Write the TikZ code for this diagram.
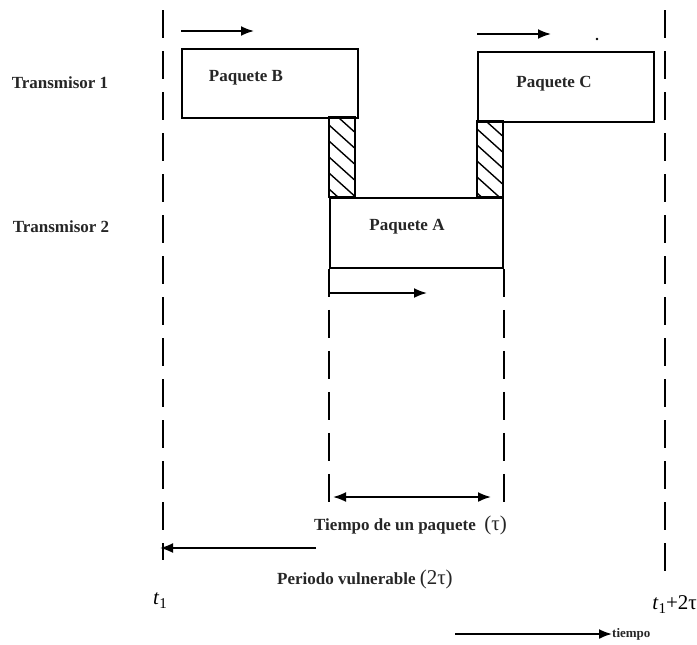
\documentclass[tikz,border=0pt]{standalone}
\usepackage{fontspec}
\setmainfont{Liberation Serif}
\usetikzlibrary{arrows.meta}
\newcommand{\bigf}{\fontsize{21}{24}\selectfont\mdseries}
\newcommand{\subone}{\raisebox{-0.45ex}{\fontsize{15}{17}\selectfont 1}}
\begin{document}
\begin{tikzpicture}[x=1pt,y=-1pt,
  pkt/.style={draw, line width=1.8pt, anchor=north west, inner sep=0pt},
  lbl/.style={font=\fontsize{17}{20}\selectfont\bfseries, text=black!85, inner sep=0pt},
  vdash/.style={line width=2pt, dash pattern=on 28pt off 13pt},
  arr/.style={line width=1.8pt, -{Latex[length=13pt,width=10pt]}},
  darr/.style={line width=1.8pt, {Latex[length=13pt,width=10pt]}-{Latex[length=13pt,width=10pt]}},
  hatch/.style={line width=1.4pt}]
\useasboundingbox (0,0) rectangle (697,645);
% boxes
\node[pkt, minimum width=176pt, minimum height=69pt] (B) at (181,48) {};
\node[pkt, minimum width=176pt, minimum height=70pt] (C) at (477,51) {};
\node[pkt, minimum width=173pt, minimum height=70pt] (A) at (329,197) {};
% hatched collision zones
\coordinate (h1a) at (329,117); \coordinate (h1b) at (355,197);
\coordinate (h2a) at (477,121); \coordinate (h2b) at (503,197);
\draw[line width=1.8pt] (h1a) rectangle (h1b);
\draw[line width=1.8pt] (h2a) rectangle (h2b);
\begin{scope}
\clip (h1a) rectangle (h1b);
\foreach \k in {-40,-24,...,120} \draw[hatch] (329,\k+117) -- (359,\k+117+27);
\end{scope}
\begin{scope}
\clip (h2a) rectangle (h2b);
\foreach \k in {-40,-24,...,120} \draw[hatch] (477,\k+121) -- (507,\k+121+27);
\end{scope}
% labels
\node[lbl] (t1lab) at (60,83) {Transmisor 1};
\node[lbl] (t2lab) at (61,227) {Transmisor 2};
\node[lbl] (pb) at (246,78) {Paquete B};
\node[lbl] (pc) at (554,84) {Paquete C};
\node[lbl] (pa) at (407,227) {Paquete A};
% vertical dashed lines
\coordinate (L1) at (163,10); \coordinate (L2) at (163,560);
\coordinate (R1) at (665,10); \coordinate (R2) at (665,573);
\draw[vdash] (L1) -- (L2);
\draw[vdash] (R1) -- (R2);
\draw[vdash] (A.south west) -- ++(0,236);
\draw[vdash] (A.south east) -- ++(0,236);
% direction arrows
\coordinate (a1) at (181,31); \coordinate (a2) at (254,31);
\draw[arr] (a1) -- (a2);
\coordinate (c1) at (477,34); \coordinate (c2) at (551,34);
\draw[arr] (c1) -- (c2);
\fill (597,39) circle (1.3pt);
\coordinate (p1) at (329,293); \coordinate (p2) at (427,293);
\draw[arr] (p1) -- (p2);
% packet time
\coordinate (d1) at (333,497); \coordinate (d2) at (491,497);
\draw[darr] (d1) -- (d2);
\node[lbl, anchor=base west] (tp) at (314,530) {Tiempo de un paquete \ {\bigf(τ)}};
% vulnerable period
\coordinate (v1) at (316,548); \coordinate (v2) at (160,548);
\draw[arr] (v1) -- (v2);
\node[lbl, anchor=base west] (pv) at (277,584) {Periodo vulnerable {\bigf(2τ)}};
% time marks
\node[inner sep=0pt, font=\bigf, anchor=base] (tm1) at (160,604) {\textit{t}\subone};
\node[inner sep=0pt, font=\bigf, anchor=base east] (tm2) at (697,609) {\textit{t}\subone+2τ};
% time axis
\coordinate (x1) at (455,634); \coordinate (x2) at (612,634);
\draw[arr] (x1) -- (x2);
\node[lbl, font=\fontsize{13}{15}\selectfont\bfseries, anchor=west] (tiempo) at (x2) {tiempo};
\end{tikzpicture}
\end{document}
